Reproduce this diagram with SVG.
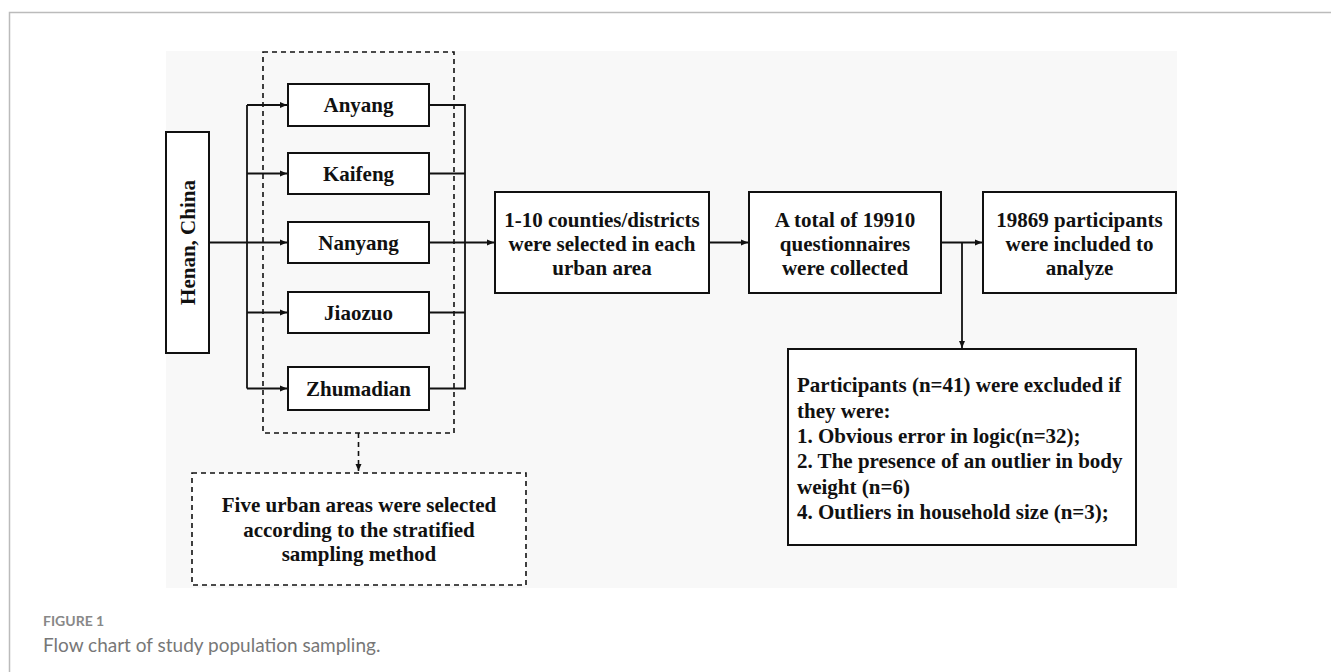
<svg xmlns="http://www.w3.org/2000/svg" width="1331" height="672" viewBox="0 0 1331 672">
<style>
.box{fill:#fff;stroke:#111;stroke-width:2}
.dash{fill:#fff;stroke:#111;stroke-width:1.6;stroke-dasharray:5,4}
.t{font-family:"Liberation Serif","Times New Roman",serif;font-weight:bold;font-size:21px;fill:#111}
.c{text-anchor:middle}
.ln{fill:none;stroke:#111;stroke-width:1.8}
.dl{fill:none;stroke:#111;stroke-width:1.6;stroke-dasharray:5,4}
.cap{font-family:Lato,"Open Sans",sans-serif;fill:#777}
</style>
<defs>
<marker id="arr" markerWidth="8" markerHeight="8" refX="7" refY="4" orient="auto" markerUnits="userSpaceOnUse">
<path d="M0,1 L7,4 L0,7 z" fill="#111"/>
</marker>
</defs>
<rect width="1331" height="672" fill="#fff"/>
<path d="M9.5,672 V12.5 H1331" fill="none" stroke="#bbb" stroke-width="1.5"/>
<rect x="166" y="51" width="1011" height="537" fill="#f8f8f8"/>

<g id="urban-group">
<rect class="dash" x="263" y="52" width="191" height="381" style="fill:none"/>
</g>

<g id="connectors">
<path class="ln" d="M247,105 V388.5"/>
<path class="ln" d="M209,242.5 H287" marker-end="url(#arr)"/>
<path class="ln" d="M247,105 H287" marker-end="url(#arr)"/>
<path class="ln" d="M247,173.5 H287" marker-end="url(#arr)"/>
<path class="ln" d="M247,312.5 H287" marker-end="url(#arr)"/>
<path class="ln" d="M247,388.5 H287" marker-end="url(#arr)"/>
<path class="ln" d="M429,105 H465 V388.5 H429"/>
<path class="ln" d="M429,173.5 H465"/>
<path class="ln" d="M429,312.5 H465"/>
<path class="ln" d="M429,242.5 H494" marker-end="url(#arr)"/>
<path class="ln" d="M709,242.5 H748" marker-end="url(#arr)"/>
<path class="ln" d="M941,242.5 H982" marker-end="url(#arr)"/>
<path class="ln" d="M962,242.5 V348" marker-end="url(#arr)"/>
<path class="dl" d="M358.5,433 V471" marker-end="url(#arr)"/>
</g>

<g id="henan">
<rect class="box" x="166" y="132" width="43" height="221"/>
<text class="t c" transform="translate(195,242.5) rotate(-90)">Henan, China</text>
</g>
<g id="anyang">
<rect class="box" x="288" y="84" width="141" height="42"/>
<text class="t c" x="358.5" y="112">Anyang</text>
</g>
<g id="kaifeng">
<rect class="box" x="288" y="153" width="141" height="41"/>
<text class="t c" x="358.5" y="180.5">Kaifeng</text>
</g>
<g id="nanyang">
<rect class="box" x="288" y="222" width="141" height="41"/>
<text class="t c" x="358.5" y="249.5">Nanyang</text>
</g>
<g id="jiaozuo">
<rect class="box" x="288" y="292" width="141" height="41"/>
<text class="t c" x="358.5" y="319.5">Jiaozuo</text>
</g>
<g id="zhumadian">
<rect class="box" x="288" y="367" width="141" height="43"/>
<text class="t c" x="358.5" y="395.5">Zhumadian</text>
</g>
<g id="counties">
<rect class="box" x="495" y="192" width="214" height="101"/>
<text class="t c" x="602" y="226.5">1-10 counties/districts</text>
<text class="t c" x="602" y="250.5">were selected in each</text>
<text class="t c" x="602" y="275">urban area</text>
</g>
<g id="questionnaires">
<rect class="box" x="749" y="192" width="192" height="101"/>
<text class="t c" x="845" y="226.5">A total of 19910</text>
<text class="t c" x="845" y="250.5">questionnaires</text>
<text class="t c" x="845" y="275">were collected</text>
</g>
<g id="included">
<rect class="box" x="983" y="192" width="193" height="101"/>
<text class="t c" x="1079.5" y="226.5">19869 participants</text>
<text class="t c" x="1079.5" y="250.5">were included to</text>
<text class="t c" x="1079.5" y="275">analyze</text>
</g>
<g id="excluded">
<rect class="box" x="788" y="349" width="348" height="196"/>
<text class="t" x="797" y="392">Participants (n=41) were excluded if</text>
<text class="t" x="797" y="417.5">they were:</text>
<text class="t" x="797" y="443">1. Obvious error in logic(n=32);</text>
<text class="t" x="797" y="468">2. The presence of an outlier in body</text>
<text class="t" x="797" y="493.5">weight (n=6)</text>
<text class="t" x="797" y="519">4. Outliers in household size (n=3);</text>
</g>
<g id="stratified">
<rect class="dash" x="192" y="473" width="334" height="112"/>
<text class="t c" x="359" y="512">Five urban areas were selected</text>
<text class="t c" x="359" y="536.5">according to the stratified</text>
<text class="t c" x="359" y="561">sampling method</text>
</g>
<g id="caption">
<text class="cap" x="43" y="626" font-size="14" font-weight="bold" style="fill:#888">FIGURE 1</text>
<text class="cap" x="43" y="652" font-size="19">Flow chart of study population sampling.</text>
</g>
</svg>
